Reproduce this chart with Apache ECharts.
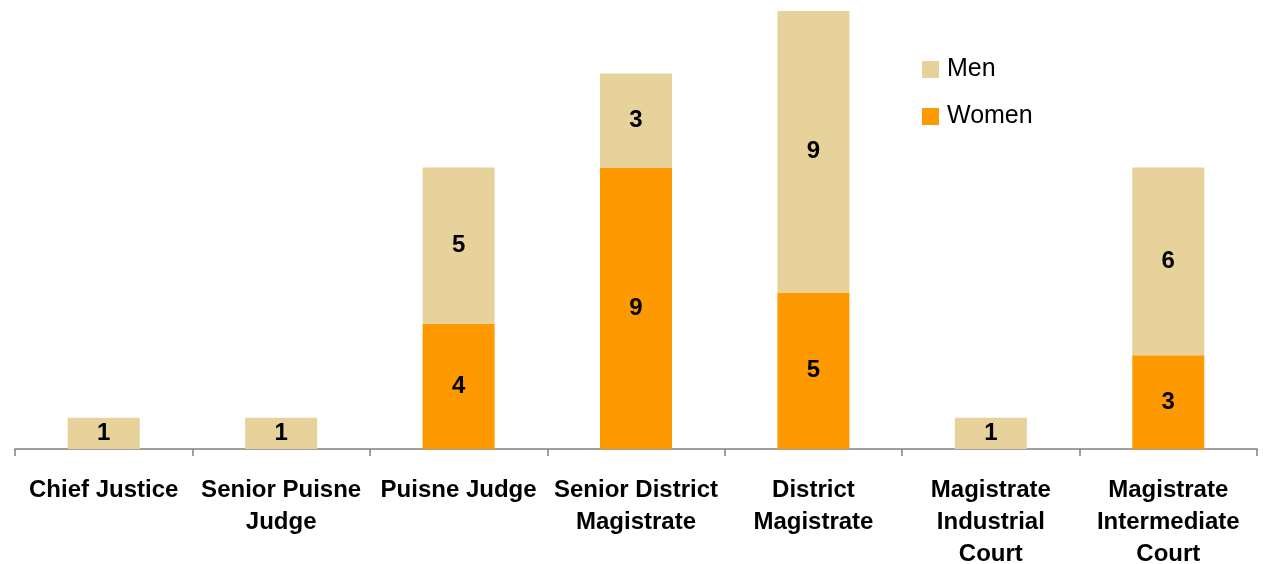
<!DOCTYPE html>
<html>
<head>
<meta charset="utf-8">
<script src="https://cdn.jsdelivr.net/npm/echarts@6/dist/echarts.min.js"></script>
<style>
  html, body { margin: 0; padding: 0; background: #fff; }
  #main { width: 1263px; height: 564px; }
</style>
</head>
<body>
<div id="main"></div>
<script>
var categories = ['Chief Justice', 'Senior Puisne\nJudge', 'Puisne Judge', 'Senior District\nMagistrate',
    'District\nMagistrate', 'Magistrate\nIndustrial\nCourt', 'Magistrate\nIntermediate\nCourt'];
var women = [0, 0, 4, 9, 5, 0, 3];
var men = [1, 1, 5, 3, 9, 1, 6];

var myChart = echarts.init(document.getElementById('main'));

// 0 -> no label
function hideZero(p) {
    return p.value ? p.value : '';
}

var option = {
    animation: false,
    textStyle: { fontFamily: 'Liberation Sans, Arial, sans-serif' },
    legend: {
        orient: 'vertical',
        left: 917,
        top: 52,
        icon: 'rect',
        itemWidth: 17,
        itemHeight: 17,
        itemGap: 22,
        data: ['Men', 'Women'],
        textStyle: { fontSize: 25, color: '#000', padding: [0, 0, 0, 3] }
    },
    grid: { left: 15, right: 6, top: 11, bottom: 115, outerBoundsMode: 'none', containLabel: false },
    xAxis: {
        type: 'category',
        data: categories,
        axisLine: { lineStyle: { color: '#808080', width: 1.5 } },
        axisTick: { show: true, length: 7, lineStyle: { color: '#808080', width: 1.5 } },
        axisLabel: {
            interval: 0,
            margin: 25,
            color: '#000',
            fontWeight: 'bold',
            fontSize: 24,
            lineHeight: 32
        }
    },
    yAxis: {
        type: 'value',
        min: 0,
        max: 14,
        show: false
    },
    series: [{
        name: 'Women',
        type: 'bar',
        stack: 'all',
        barWidth: 72,
        itemStyle: { color: '#FF9900' },
        label: { show: true, position: 'inside', color: '#000', fontWeight: 'bold', fontSize: 24, formatter: hideZero },
        data: women
    }, {
        name: 'Men',
        type: 'bar',
        stack: 'all',
        barWidth: 72,
        itemStyle: { color: '#E6D29A' },
        label: { show: true, position: 'inside', color: '#000', fontWeight: 'bold', fontSize: 24, formatter: hideZero },
        data: men
    }]
};
myChart.setOption(option);
</script>
</body>
</html>
